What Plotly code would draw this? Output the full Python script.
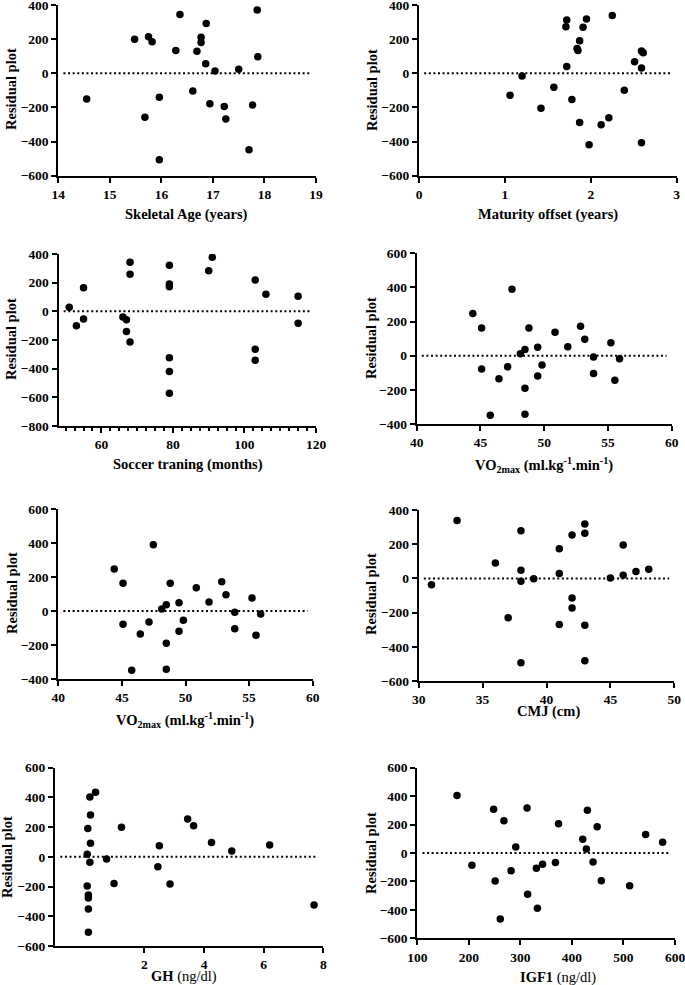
import plotly.graph_objects as go

# ---------------- data ----------------
skeletal_age = [14.55, 15.48, 15.75, 15.82, 15.68, 15.96, 15.96, 16.28, 16.36, 16.61, 16.69, 16.77,
                16.77, 16.87, 16.86, 16.94, 17.04, 17.22, 17.25, 17.50, 17.70, 17.77, 17.86, 17.87]
res_skeletal = [-150, 200, 214, 185, -258, -141, -506, 134, 345, -104, 129, 181,
                211, 291, 56, -178, 13, -194, -268, 23, -448, -186, 371, 97]

maturity_offset = [1.06, 1.20, 1.42, 1.57, 1.72, 1.72, 1.71, 1.78, 1.84, 1.85, 1.87, 1.87,
                   1.91, 1.95, 1.98, 2.12, 2.21, 2.25, 2.39, 2.51, 2.59, 2.61, 2.59, 2.59]
res_maturity = [-129, -16, -205, -82, 39, 312, 273, -153, 145, 133, 191, -289,
                269, 318, -418, -301, -260, 339, -100, 68, 130, 121, 31, -407]

soccer_training = [51, 53, 55, 55, 66, 67, 67, 68, 68, 68, 79, 79,
                   79, 79, 79, 79, 90, 91, 103, 103, 103, 106, 115, 115]
res_soccer = [28, -100, 165, -53, -40, -58, -140, 342, 258, -214, 321, 191,
              172, -323, -419, -572, 284, 377, 219, -265, -342, 119, 105, -84]

vo2max = [44.40, 45.09, 45.09, 45.77, 46.45, 47.13, 47.47, 48.13, 48.49, 48.49, 48.49, 48.80,
          49.49, 49.49, 49.83, 50.85, 51.85, 52.85, 53.18, 53.87, 53.87, 55.23, 55.54, 55.91]
res_vo2 = [247, 163, -78, -349, -135, -65, 390, 12, 37, -190, -343, 163,
           49, -119, -55, 137, 53, 172, 96, -8, -104, 76, -143, -18]

cmj = [31, 33, 36, 37, 38, 38, 38, 38, 39, 41, 41, 41,
       42, 42, 42, 43, 43, 43, 43, 45, 46, 46, 47, 48]
res_cmj = [-37, 338, 90, -230, 279, 47, -17, -493, -2, 174, 28, -269,
           254, -115, -173, 318, 264, -274, -481, 2, 195, 18, 41, 53]

gh = [0.17, 0.36, 0.19, 0.10, 0.19, 0.08, 0.17, 0.08, 0.12, 0.12, 0.12, 0.12,
      0.73, 0.98, 1.23, 2.45, 2.50, 2.86, 3.45, 3.65, 4.25, 4.93, 6.20, 7.69]
res_gh = [403, 434, 282, 190, 91, 17, -37, -196, -256, -277, -351, -508,
          -14, -180, 199, -66, 75, -183, 255, 210, 96, 39, 80, -324]

igf1 = [177, 206, 248, 251, 261, 268, 282, 291, 313, 314, 331, 333,
        343, 368, 374, 421, 428, 430, 441, 449, 457, 512, 543, 576]
res_igf1 = [405, -87, 307, -197, -464, 227, -124, 42, 316, -291, -108, -389,
            -80, -66, 206, 96, 28, 300, -64, 185, -195, -230, 131, 75]

x_titles = ["<b>Skeletal Age (years)</b>", "<b>Maturity offset (years)</b>",
            "<b>Soccer traning (months)</b>",
            "<b>VO<sub>2max</sub> (ml.kg<sup>-1</sup>.min<sup>-1</sup>)</b>",
            "<b>VO<sub>2max</sub> (ml.kg<sup>-1</sup>.min<sup>-1</sup>)</b>",
            "<b>CMJ (cm)</b>", "<b>GH</b> (ng/dl)", "<b>IGF1</b> (ng/dl)"]
y_title = "<b>Residual plot</b>"

series = [(skeletal_age, res_skeletal), (maturity_offset, res_maturity),
          (soccer_training, res_soccer), (vo2max, res_vo2), (vo2max, res_vo2),
          (cmj, res_cmj), (gh, res_gh), (igf1, res_igf1)]

# ---------------- layout (pixel geometry) ----------------
W, H = 685, 985
# plot area: x0, x1, y0(top), y1(bottom) in pixels
boxes = [(58.3, 316, 5, 175.7), (419, 676.7, 5, 175.7),
         (58.5, 316, 254, 426), (416.7, 671.7, 253.3, 424),
         (58.3, 312.7, 509, 679), (418.7, 674.3, 510, 681),
         (55, 323.3, 767.7, 946), (417.3, 675, 767.7, 938.3)]
xranges = [[14, 19], [0, 3], [48, 120], [40, 60], [40, 60], [30, 50], [-1, 8], [100, 600]]
yranges = [[-600, 400], [-600, 400], [-800, 400], [-400, 600], [-400, 600],
           [-600, 400], [-600, 600], [-600, 600]]
xticks = [dict(dtick=1, tick0=0), dict(dtick=1, tick0=0),
          dict(tickvals=[60, 80, 100, 120]), dict(dtick=5, tick0=0), dict(dtick=5, tick0=0),
          dict(dtick=5, tick0=0), dict(tickvals=[2, 4, 6, 8]), dict(dtick=100, tick0=0)]
# axis title positions (pixel centers)
xtitle_pos = [(187, 214), (548, 214), (188, 464), (544, 465), (185, 720),
              (548, 711), (184, 976), (558, 977)]
ytitle_pos = [(11, 89), (372, 90), (11, 339), (371, 338), (12, 593),
              (371, 594), (7, 857), (371, 853)]

FAMILY = "Liberation Serif, Times New Roman, serif"
tickfont = dict(family=FAMILY, size=13.5, color="black", weight="bold")
titlefont_bold = dict(family=FAMILY, size=14.5, color="black", weight="bold")
titlefont_norm = dict(family=FAMILY, size=14.5, color="black")

fig = go.Figure()
layout = dict(width=W, height=H, margin=dict(l=0, r=0, t=0, b=0, pad=0, autoexpand=False),
              paper_bgcolor="white", plot_bgcolor="white", showlegend=False,
              annotations=[], shapes=[])

common = dict(automargin=False, ticklabeloverflow="allow",
              showgrid=False, zeroline=False, showline=True, linecolor="black",
              linewidth=2, ticks="outside", ticklen=5, tickwidth=2, tickcolor="black",
              tickfont=tickfont)

for i, ((xs, ys), (x0, x1, yt, yb)) in enumerate(zip(series, boxes)):
    n = "" if i == 0 else str(i + 1)
    fig.add_trace(go.Scatter(x=xs, y=ys, mode="markers", xaxis="x" + n, yaxis="y" + n,
                             marker=dict(color="black", size=7.5)))
    ax = dict(domain=[x0 / W, x1 / W], range=xranges[i], anchor="y" + n,
              **common, **xticks[i])
    if i == 2:
        ax["minor"] = dict(dtick=2.5, tick0=0, ticks="outside", ticklen=3,
                           tickwidth=1.5, tickcolor="black")
    ay = dict(domain=[1 - yb / H, 1 - yt / H], range=yranges[i], anchor="x" + n,
              dtick=200, tick0=0, **common)
    layout["xaxis" + n] = ax
    layout["yaxis" + n] = ay
    # dotted zero line
    layout["shapes"].append(dict(type="line", xref="x" + n + " domain", yref="y" + n,
                                 x0=0.02, x1=0.98, y0=0, y1=0,
                                 line=dict(color="black", width=2, dash="2px,2.6px")))
    tx, ty = xtitle_pos[i]
    layout["annotations"].append(dict(
        text=x_titles[i], x=tx / W, y=1 - ty / H, xref="paper", yref="paper",
        showarrow=False, xanchor="center", yanchor="middle",
        font=titlefont_norm if i >= 6 else titlefont_bold))
    vx, vy = ytitle_pos[i]
    layout["annotations"].append(dict(
        text=y_title, x=vx / W, y=1 - vy / H, xref="paper", yref="paper",
        showarrow=False, xanchor="center", yanchor="middle", textangle=-90,
        font=titlefont_bold))

fig.update_layout(**layout)
fig.write_html("out.html", config={"displayModeBar": False},
               post_script="document.body.style.margin='0px';"
                           "document.body.style.overflow='hidden';")
